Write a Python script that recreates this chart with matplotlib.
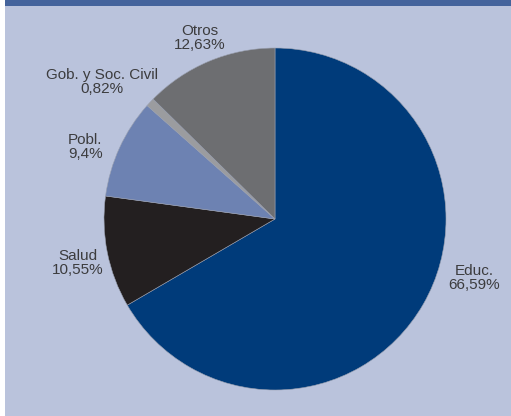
import matplotlib.pyplot as plt
from matplotlib.patches import Rectangle

# data
labels = ["Educ.", "Salud", "Pobl.", "Gob. y Soc. Civil", "Otros"]
values = [66.59, 10.55, 9.4, 0.82, 12.63]
pct_text = ["66,59%", "10,55%", "9,4%", "0,82%", "12,63%"]
colors = ["#003b7a", "#231f20", "#6d82b2", "#9b9c9f", "#6d6e71"]

# label placement in pie units (radius = 1)
label_pos = [(1.163, -0.345), (-1.152, -0.257), (-1.11, 0.42), (-1.012, 0.80), (-0.439, 1.06)]

bg = "#bac3dc"
fig = plt.figure(figsize=(5.11, 4.16), dpi=100)
fig.patch.set_facecolor("white")
fig.patches.append(Rectangle((5 / 511, 0), 1, 1, transform=fig.transFigure,
                             facecolor=bg, edgecolor="none", zorder=-2))
fig.patches.append(Rectangle((5 / 511, 1 - 6 / 416), 1, 6 / 416, transform=fig.transFigure,
                             facecolor="#44639c", edgecolor="none", zorder=-1))

r = 171
cx, cy = 275, 219
ax = fig.add_axes([(cx - r) / 511, (416 - cy - r) / 416, 2 * r / 511, 2 * r / 416])
ax.set_zorder(5)
ax.pie(values, colors=colors, startangle=90, counterclock=False,
       wedgeprops=dict(edgecolor="#9aa0b0", linewidth=0.4))
ax.set_xlim(-1, 1)
ax.set_ylim(-1, 1)
ax.set_aspect("equal")
ax.axis("off")

for lab, pct, (x, y) in zip(labels, pct_text, label_pos):
    ax.text(x, y, lab + "\n" + pct, ha="center", va="center", fontsize=11,
            family="Liberation Sans", color="#3c3c3e", linespacing=1.0)

fig.savefig("out.png", dpi=100)
